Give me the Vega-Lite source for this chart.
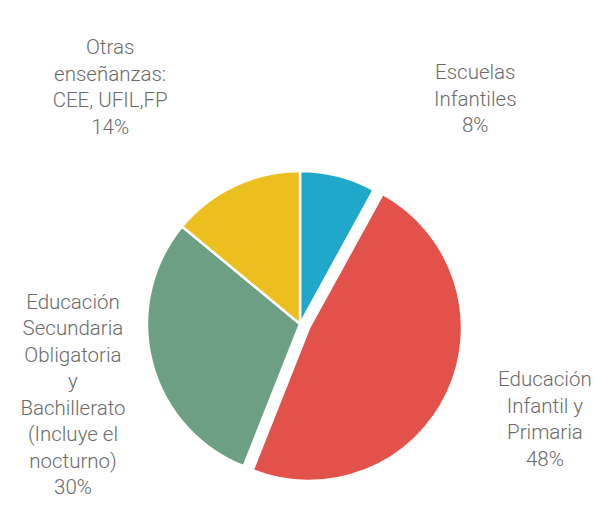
{
  "$schema": "https://vega.github.io/schema/vega-lite/v6.json",
  "autosize": {"type": "none"},
  "width": 590,
  "height": 360,
  "padding": {"left": 5, "top": 144, "right": 0, "bottom": 1},
  "background": "white",
  "data": {
    "values": [
      {"cat": "Escuelas Infantiles", "label": "Escuelas\nInfantiles\n8%", "pct": 8, "orden": 1},
      {"cat": "Educación Infantil y Primaria", "label": "Educación\nInfantil y\nPrimaria\n48%", "pct": 48, "orden": 2},
      {"cat": "Educación Secundaria Obligatoria y Bachillerato", "label": "Educación\nSecundaria\nObligatoria\ny\nBachillerato\n(Incluye el\nnocturno)\n30%", "pct": 30, "orden": 3},
      {"cat": "Otras enseñanzas: CEE, UFIL, FP", "label": "Otras\nenseñanzas:\nCEE, UFIL,FP\n14%", "pct": 14, "orden": 4}
    ]
  },
  "encoding": {
    "theta": {"field": "pct", "type": "quantitative", "stack": true, "scale": {"domain": [0, 100]}},
    "order": {"field": "orden", "type": "quantitative"},
    "detail": {"field": "cat", "type": "nominal"}
  },
  "layer": [
    {
      "mark": {
        "type": "arc",
        "outerRadius": 153,
        "stroke": "white",
        "strokeWidth": 2.5,
        "xOffset": {"expr": "datum.cat === 'Educación Infantil y Primaria' ? 9 : 0"},
        "yOffset": {"expr": "datum.cat === 'Educación Infantil y Primaria' ? 4 : 0"}
      },
      "encoding": {
        "color": {
          "field": "cat",
          "type": "nominal",
          "legend": null,
          "scale": {
            "domain": ["Escuelas Infantiles", "Educación Infantil y Primaria", "Educación Secundaria Obligatoria y Bachillerato", "Otras enseñanzas: CEE, UFIL, FP"],
            "range": ["#1FA8C9", "#E2524A", "#6C9F83", "#EDBF1E"]
          }
        }
      }
    },
    {
      "mark": {
        "type": "text",
        "radius": 190,
        "lineBreak": "\n",
        "lineHeight": 26.5,
        "font": "Roboto",
        "fontWeight": 300,
        "fontSize": 20.5,
        "fill": "#6b6b6b",
        "align": "center",
        "baseline": "middle",
        "dx": {"expr": "datum.orden === 1 ? 128 : datum.orden === 2 ? 73 : datum.orden === 3 ? -43 : -109"},
        "dy": {"expr": "datum.orden === 1 ? -66.5 : datum.orden === 2 ? -24.7 : datum.orden === 3 ? -68.7 : -103.7"}
      },
      "encoding": {
        "text": {"field": "label", "type": "nominal"}
      }
    }
  ]
}
